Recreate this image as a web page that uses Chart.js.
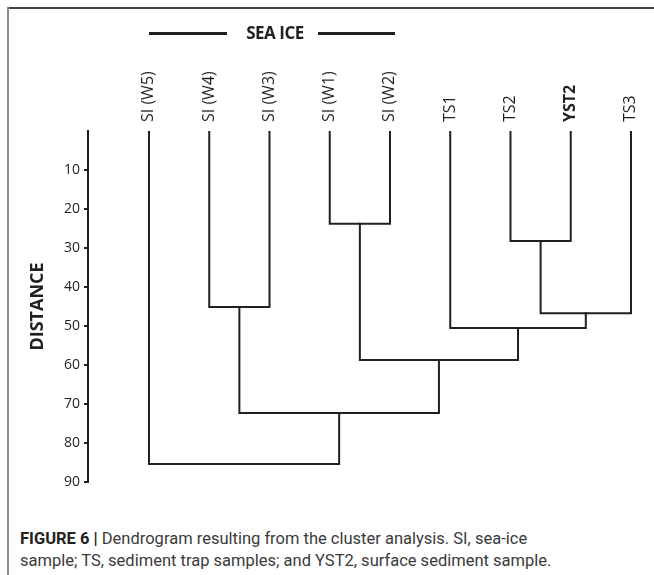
<!DOCTYPE html>
<html>
<head>
<meta charset="utf-8">
<script src="https://cdn.jsdelivr.net/npm/chart.js@4"></script>
<style>
  html, body { margin:0; padding:0; background:#fff; }
  #wrap { position:relative; width:654px; height:575px; overflow:hidden; }
  #frameTop { position:absolute; left:7px; top:7px; width:647px; height:2px; background:#444; }
  #frameLeft { position:absolute; left:7px; top:7px; width:2px; height:568px; background:#8a8a8a; }
  #chartBox { position:absolute; left:0; top:0; width:654px; height:500px; }
  .seaLine { position:absolute; top:32px; height:3px; background:#231f20; }
  #seaText { position:absolute; left:230px; width:90px; top:21px; text-align:center;
             font-family:'Open Sans'; font-weight:700; font-size:17px; color:#231f20; letter-spacing:-0.5px; line-height:24px; }
  .cap { position:absolute; left:20px; font-family:Roboto, 'Liberation Sans', sans-serif; font-size:16.5px;
         color:#3a3a3a; white-space:nowrap; line-height:22px; }
  .cap b { color:#222; }
</style>
</head>
<body>
<div id="wrap">
  <div id="frameTop"></div>
  <div id="frameLeft"></div>
  <div id="chartBox"><canvas id="c"></canvas></div>
  <div class="seaLine" style="left:149px; width:78px;"></div>
  <div id="seaText">SEA ICE</div>
  <div class="seaLine" style="left:318px; width:77px;"></div>
  <div class="cap" style="top:528px;"><b>FIGURE 6 |</b> Dendrogram resulting from the cluster analysis. SI, sea-ice</div>
  <div class="cap" style="top:550px;">sample; TS, sediment trap samples; and YST2, surface sediment sample.</div>
</div>
<script>
// ---- data ----
const leaves = ['SI (W5)', 'SI (W4)', 'SI (W3)', 'SI (W1)', 'SI (W2)', 'TS1', 'TS2', 'YST2', 'TS3'];
const boldLeaves = ['YST2'];
// merges: clusters 0..8 are leaves, merge k creates cluster 9+k
const mergeLeft   = [3, 6, 1, 10, 5, 9, 11, 0];
const mergeRight  = [4, 7, 2, 8, 12, 13, 14, 15];
const mergeHeight = [23.8, 28.2, 45.1, 46.7, 50.5, 58.7, 72.3, 85.4];
const distanceTicks = [10, 20, 30, 40, 50, 60, 70, 80, 90];

// ---- build link paths from data ----
const clusterX = leaves.map((_, i) => i);
const clusterH = leaves.map(() => 0);
const datasets = [];
mergeLeft.forEach((l, k) => {
  const r = mergeRight[k], h = mergeHeight[k];
  datasets.push({
    data: [
      {x: clusterX[l], y: clusterH[l]},
      {x: clusterX[l], y: h},
      {x: clusterX[r], y: h},
      {x: clusterX[r], y: clusterH[r]}
    ]
  });
  clusterX.push((clusterX[l] + clusterX[r]) / 2);
  clusterH.push(h);
});

const INK = '#231f20';
new Chart(document.getElementById('c'), {
  type: 'scatter',
  data: {
    datasets: datasets.map(d => Object.assign(d, {
      showLine: true, borderColor: INK, borderWidth: 2, pointRadius: 0,
      pointHoverRadius: 0, tension: 0, fill: false, borderJoinStyle: 'miter', borderCapStyle: 'square'
    }))
  },
  options: {
    responsive: true, maintainAspectRatio: false, animation: false,
    layout: { padding: { top: 0, left: 0, right: 10, bottom: 18 } },
    plugins: { legend: { display: false }, tooltip: { enabled: false } },
    scales: {
      x: {
        type: 'linear', position: 'top', min: -1.0124, max: 8.216,
        afterBuildTicks: s => { s.ticks = leaves.map((_, i) => ({ value: i })); },
        afterFit: s => { s.height = 131; },
        grid: { display: false }, border: { display: false },
        ticks: {
          autoSkip: false, minRotation: 90, maxRotation: 90, padding: 1, labelOffset: 19, color: INK,
          callback: v => leaves[v],
          font: ctx => ({ family: 'Open Sans', size: 16,
                          weight: boldLeaves.includes(leaves[ctx.index]) ? 'bold' : 'normal' })
        }
      },
      y: {
        type: 'linear', reverse: true, min: 0, max: 90,
        afterBuildTicks: s => { s.ticks = distanceTicks.map(v => ({ value: v })); },
        afterFit: s => { s.width = 88; },
        border: { display: true, color: INK, width: 2 },
        grid: { drawOnChartArea: false, drawTicks: true, tickLength: 4, color: INK, lineWidth: 2 },
        ticks: { padding: 4, color: INK, font: { family: 'Open Sans', size: 14 } },
        title: { display: true, text: 'DISTANCE', color: INK,
                 font: { family: 'Open Sans', size: 18, weight: 'bold' }, padding: { top: 27, bottom: 0 } }
      }
    }
  }
});
</script>
</body>
</html>
